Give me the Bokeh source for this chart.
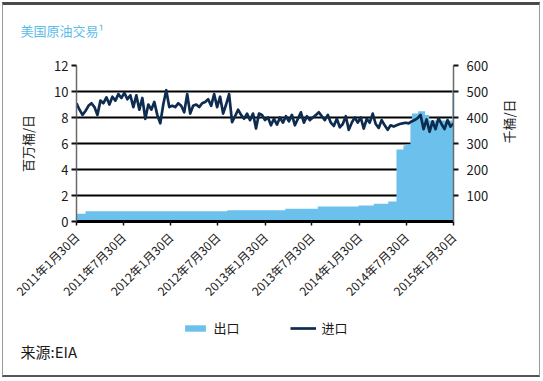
import pandas as pd
from math import pi
from bokeh.plotting import figure
from bokeh.layouts import column
from bokeh.models import Range1d, LinearAxis, FixedTicker, Legend, LegendItem, Title
from bokeh.embed import file_html
from bokeh.resources import INLINE

FONT = "Noto Sans CJK SC"

title_text = "美国原油交易¹"
source_text = "来源:EIA"
left_axis_label = "百万桶/日"
right_axis_label = "千桶/日"
series_names = ["出口", "进口"]

tick_dates = ["2011-01-30", "2011-07-30", "2012-01-30", "2012-07-30", "2013-01-30",
              "2013-07-30", "2014-01-30", "2014-07-30", "2015-01-30"]
tick_labels = ["2011年1月30日", "2011年7月30日", "2012年1月30日", "2012年7月30日", "2013年1月30日",
               "2013年7月30日", "2014年1月30日", "2014年7月30日", "2015年1月30日"]
left_ticks = [0, 2, 4, 6, 8, 10, 12]
right_ticks = [100, 200, 300, 400, 500, 600]

# imports, million barrels/day (left axis), sampled evenly from 2011-01-30 to 2015-01-30
import_values = [
    9.1, 8.6, 8.2, 8.5, 8.9, 9.1, 8.8, 8.2, 9.3, 9.1, 9.55, 9.0, 9.6, 9.3, 9.8, 9.5,
    9.9, 9.4, 9.7, 8.8, 9.7, 8.6, 9.5, 7.9, 9.0, 8.6, 9.2, 8.2, 7.55, 9.0, 10.1, 8.8,
    8.9, 8.8, 9.1, 8.9, 8.4, 9.8, 8.3, 8.9, 9.0, 8.8, 9.1, 9.2, 9.4, 8.9, 9.8, 8.8,
    9.6, 8.3, 9.0, 9.8, 7.65, 8.1, 8.6, 8.2, 7.9, 8.3, 7.8, 8.3, 7.15, 8.3, 8.2,
    7.8, 8.0, 7.4, 7.9, 7.45, 8.0, 7.6, 8.1, 7.7, 8.2, 7.4, 7.9, 8.4, 7.6, 8.1, 7.8,
    8.0, 8.2, 8.4, 8.1, 7.8, 8.2, 7.6, 7.35, 7.9, 7.25, 7.5, 8.1, 7.05, 7.6, 8.0,
    7.6, 8.0, 7.15, 7.9, 7.6, 8.3, 7.5, 7.2, 7.8, 7.4, 7.05, 7.4, 7.3, 7.4, 7.5, 7.55,
    7.6, 7.55, 7.7, 7.8, 7.95, 8.2, 7.1, 7.85, 6.9, 7.7, 7.1, 7.95, 7.5, 7.1, 7.8, 7.3, 7.55,
]

# exports, thousand barrels/day (right axis)
export_dates = ["2011-01-30", "2011-03-06", "2012-09-05", "2013-04-18", "2013-08-22",
                "2014-01-27", "2014-03-27", "2014-05-22", "2014-06-23", "2014-07-20",
                "2014-07-28", "2014-08-16", "2014-08-22", "2014-09-15", "2014-10-12",
                "2014-10-28", "2015-01-25", "2015-01-30"]
export_values = [30, 39, 43, 49, 58,
                 62, 68, 77, 277, 292,
                 296, 380, 415, 424, 410,
                 388, 505, 505]

start = pd.Timestamp(tick_dates[0])
end = pd.Timestamp(tick_dates[-1])
import_dates = pd.date_range(start, end, periods=len(import_values))
export_dt = pd.to_datetime(export_dates)
tick_ms = [float(pd.Timestamp(d).value // 10**6) for d in tick_dates]

AREA = "#6cc1ec"
LINE = "#0e2c50"
TXT = "#1a1a1a"
W = 536
ML, MR = 73, 86


def strip(h, **borders):
    f = figure(width=W, height=h, output_backend="svg", toolbar_location=None,
               x_range=Range1d(0, 1), y_range=Range1d(0, 1),
               x_axis_location=None, y_axis_location=None,
               min_border_left=ML, min_border_right=MR, **borders)
    f.outline_line_color = None
    f.grid.visible = False
    f.background_fill_color = "white"
    f.border_fill_color = "white"
    return f


# ---- top strip: title ----
top = strip(52, min_border_top=0, min_border_bottom=0)
top.title = Title(text=title_text, align="left", offset=-56, standoff=34,
                  vertical_align="middle",
                  text_font=FONT, text_font_size="13px", text_font_style="normal",
                  text_color="#5bbde9")

# ---- main chart ----
p = figure(width=W, height=250, x_axis_type="datetime",
           x_range=Range1d(start, end), y_range=Range1d(0, 12),
           output_backend="svg", toolbar_location=None,
           min_border_left=ML, min_border_right=MR, min_border_top=8, min_border_bottom=84)
p.outline_line_color = None
p.background_fill_color = "white"
p.border_fill_color = "white"
p.extra_y_ranges = {"exp": Range1d(0, 600)}

area_r = p.varea_step(x=export_dt, y1=0, y2=export_values, step_mode="after",
                      fill_color=AREA, y_range_name="exp")
line_r = p.line(import_dates, import_values, line_color=LINE, line_width=2.7,
                line_join="round")

p.xgrid.visible = False
p.ygrid.ticker = FixedTicker(ticks=[2, 4, 6, 8, 10])
p.ygrid.grid_line_color = "#000000"
p.ygrid.grid_line_width = 2.2

xa = p.xaxis[0]
xa.ticker = FixedTicker(ticks=tick_ms)
xa.major_label_overrides = {t: lab for t, lab in zip(tick_ms, tick_labels)}
xa.major_label_orientation = pi / 4
xa.axis_line_color = "#000000"
xa.axis_line_width = 3
xa.major_tick_line_color = "#111111"
xa.major_tick_line_width = 1.5
xa.major_tick_out = 4
xa.major_tick_in = 0
xa.minor_tick_line_color = None
xa.major_label_text_font = FONT
xa.major_label_text_font_size = "12px"
xa.major_label_text_color = TXT
xa.major_label_standoff = 9

ya = p.yaxis[0]
ya.ticker = FixedTicker(ticks=left_ticks)
ya.axis_line_color = "#6a6a6a"
ya.axis_line_width = 1.5
ya.major_tick_line_color = "#111111"
ya.major_tick_line_width = 2
ya.major_tick_out = 5
ya.major_tick_in = 0
ya.minor_tick_line_color = None
ya.major_label_text_font = FONT
ya.major_label_text_font_size = "13px"
ya.major_label_text_color = TXT
ya.major_label_standoff = 3
ya.axis_label = left_axis_label
ya.axis_label_text_font = FONT
ya.axis_label_text_font_size = "13px"
ya.axis_label_text_font_style = "normal"
ya.axis_label_text_color = TXT
ya.axis_label_standoff = 14

ra = LinearAxis(y_range_name="exp", ticker=FixedTicker(ticks=right_ticks))
ra.axis_line_color = "#6a6a6a"
ra.axis_line_width = 1.5
ra.major_tick_line_color = "#111111"
ra.major_tick_line_width = 2
ra.major_tick_out = 5
ra.major_tick_in = 0
ra.minor_tick_line_color = None
ra.major_label_text_font = FONT
ra.major_label_text_font_size = "13px"
ra.major_label_text_color = TXT
ra.major_label_standoff = 8
ra.axis_label = right_axis_label
ra.axis_label_text_font = FONT
ra.axis_label_text_font_size = "13px"
ra.axis_label_text_font_style = "normal"
ra.axis_label_text_color = TXT
ra.axis_label_standoff = 17
ra.axis_label_orientation = pi / 2
p.add_layout(ra, "right")

# ---- bottom strip: legend + source ----
bot = strip(54, min_border_top=0, min_border_bottom=0)
bot.margin = (0, 0, 14, 0)
# legend-only renderers (no drawable point)
leg_area = bot.varea(x=[0], y1=[float("nan")], y2=[float("nan")], fill_color=AREA)
leg_line = bot.line(x=[0], y=[float("nan")], line_color=LINE, line_width=2.7)
legend = Legend(items=[LegendItem(label=series_names[0], renderers=[leg_area]),
                       LegendItem(label=series_names[1], renderers=[leg_line])],
                orientation="horizontal", location="bottom_center",
                padding=0, margin=1, spacing=50, glyph_width=26, glyph_height=8,
                label_height=16, label_standoff=6, label_text_font=FONT,
                label_text_font_size="13px", label_text_color=TXT,
                border_line_color=None, background_fill_alpha=0)
bot.add_layout(legend)
bot.add_layout(Title(text=source_text, align="left", offset=-56, standoff=0,
                     text_font=FONT, text_font_size="15px", text_font_style="normal",
                     text_color=TXT), "below")

layout = column(top, p, bot, spacing=0)
layout.margin = (2, 0, 0, 2)
layout.styles = {"border-top": "3px solid #4a4a4a", "border-left": "1px solid #999",
                 "border-right": "1px solid #999", "border-bottom": "2px solid #555"}

open("out.html", "w").write(file_html(layout, INLINE))
